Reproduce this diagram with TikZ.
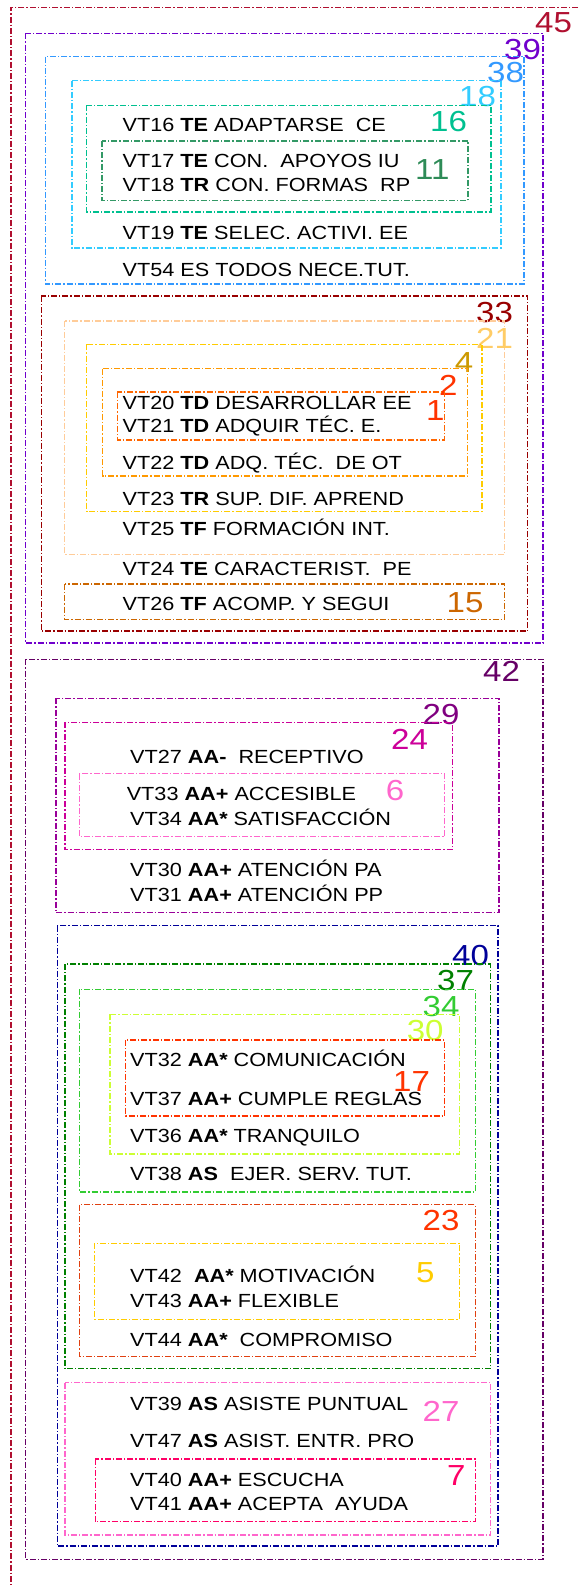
\documentclass[tikz,border=0pt]{standalone}
\usepackage{fontspec}
\setmainfont[FakeStretch=1.14]{Liberation Sans}
\definecolor{c45}{HTML}{B01030}
\definecolor{c39}{HTML}{7000CC}
\definecolor{c38}{HTML}{3399FF}
\definecolor{c18}{HTML}{33CCFF}
\definecolor{c16}{HTML}{00C090}
\definecolor{c11}{HTML}{339966}
\definecolor{l11}{HTML}{2E8B57}
\definecolor{c33}{HTML}{990000}
\definecolor{c21}{HTML}{FFCC99}
\definecolor{l21}{HTML}{FFCC66}
\definecolor{c4}{HTML}{FFCC00}
\definecolor{l4}{HTML}{CC9900}
\definecolor{c2}{HTML}{FF9900}
\definecolor{l2}{HTML}{FF3300}
\definecolor{c1}{HTML}{FF6600}
\definecolor{c15}{HTML}{CC6600}
\definecolor{c42}{HTML}{660066}
\definecolor{c29}{HTML}{990099}
\definecolor{l29}{HTML}{800080}
\definecolor{c24}{HTML}{CC0099}
\definecolor{c6}{HTML}{FF66CC}
\definecolor{c40}{HTML}{000099}
\definecolor{c37}{HTML}{008000}
\definecolor{c34}{HTML}{33CC33}
\definecolor{c30}{HTML}{CCFF33}
\definecolor{c17}{HTML}{FF3300}
\definecolor{c23}{HTML}{E04010}
\definecolor{c5}{HTML}{FFCC00}
\definecolor{c27}{HTML}{FF66CC}
\definecolor{c7}{HTML}{FF0066}
\tikzset{
  box/.style={dash pattern=on 6pt off 2pt on 1.3pt off 2pt, line width=1.2pt},
  txt/.style={anchor=base west, inner sep=0pt, font=\fontsize{19}{19}\selectfont, text=black},
  num/.style={anchor=base west, inner sep=0pt, font=\fontsize{29}{29}\selectfont},
}
\begin{document}
\begin{tikzpicture}[x=1pt,y=-1pt]
\useasboundingbox (0,0) rectangle (578,1586);
% outer 45 (clipped right and bottom)
\draw[box,c45] (578,7.3) -- (11,7.3) -- (11,1586);
\node[num,text=c45] (n45) at (535,33) {45};
% 39
\draw[box,c39] (25.8,33.3) rectangle (543,643);
\node[num,text=c39] (n39) at (504,60) {39};
\draw[box,c38] (45.4,56.7) rectangle (524,284);
\node[num,text=c38] (n38) at (487,83) {38};
\draw[box,c18] (72,80.7) rectangle (501,248);
\node[num,text=c18] (n18) at (459,107) {18};
\draw[box,c16] (86.7,105.3) rectangle (491,212);
\node[num,text=c16] (n16) at (430,132) {16};
\draw[box,c11] (102,141) rectangle (468,200.7);
\node[num,text=l11] (n11) at (415,180) {11};
\node[txt] (t16) at (122.5,132) {VT16 \textbf{TE} ADAPTARSE\ \ CE};
\node[txt] (t17) at (122.5,168) {VT17 \textbf{TE} CON.\ \ APOYOS IU};
\node[txt] (t18) at (122.5,192) {VT18 \textbf{TR} CON. FORMAS\ \ RP};
\node[txt] (t19) at (122.5,240) {VT19 \textbf{TE} SELEC. ACTIVI. EE};
\node[txt] (t54) at (122.5,277) {VT54 ES TODOS NECE.TUT.};
% 33
\draw[box,c33] (41.3,296) rectangle (527.7,631);
\node[num,text=c33] (n33) at (476,323) {33};
\draw[box,c21] (64.6,321) rectangle (504.8,554.3);
\node[num,text=l21] (n21) at (476,348) {21};
\draw[box,c4] (86.7,344.3) rectangle (482,511.7);
\node[num,text=l4] (n4) at (454.6,372) {4};
\draw[box,c2] (102.6,368.7) rectangle (467.5,476);
\node[num,text=l2] (n2) at (439,395) {2};
\draw[box,c1] (117.3,392) rectangle (444.6,440);
\node[num,text=l2] (n1) at (426,420) {1};
\node[txt] (t20) at (122.5,409.3) {VT20 \textbf{TD} DESARROLLAR EE};
\node[txt] (t21) at (122.5,432.7) {VT21 \textbf{TD} ADQUIR TÉC. E.};
\node[txt] (t22) at (122.5,469) {VT22 \textbf{TD} ADQ. TÉC.\ \ DE OT};
\node[txt] (t23) at (122.5,505) {VT23 \textbf{TR} SUP. DIF. APREND};
\node[txt] (t25) at (122.5,535) {VT25 \textbf{TF} FORMACIÓN INT.};
\node[txt] (t24) at (122.5,575) {VT24 \textbf{TE} CARACTERIST.\ \ PE};
\draw[box,c15] (64.6,584) rectangle (504.8,619.3);
\node[num,text=c15] (n15) at (446.5,612) {15};
\node[txt] (t26) at (122.5,610) {VT26 \textbf{TF} ACOMP. Y SEGUI};
% 42
\draw[box,c42] (25.8,659.3) rectangle (543,1559.3);
\node[num,text=c42] (n42) at (483,681.7) {42};
\draw[box,c29] (56,698.3) rectangle (499,912.7);
\node[num,text=l29] (n29) at (422.5,724) {29};
\draw[box,c24] (65,722.3) rectangle (452.4,849.3);
\node[num,text=c24] (n24) at (391,749) {24};
\draw[box,c6] (79.3,773.7) rectangle (444.6,836.7);
\node[num,text=c6] (n6) at (385.6,800) {6};
\node[txt] (t27) at (130,763.3) {VT27 \textbf{AA-}\ \ RECEPTIVO};
\node[txt] (t33) at (126.6,800.7) {VT33 \textbf{AA+} ACCESIBLE};
\node[txt] (t34) at (130,825.7) {VT34 \textbf{AA*} SATISFACCIÓN};
\node[txt] (t30) at (130,876.7) {VT30 \textbf{AA+} ATENCIÓN PA};
\node[txt] (t31) at (130,901.7) {VT31 \textbf{AA+} ATENCIÓN PP};
% 40
\draw[box,c40] (57.2,925.7) rectangle (498,1546);
\node[num,text=c40] (n40) at (452,965) {40};
\draw[box,c37] (65,964) rectangle (490.8,1368.7);
\node[num,text=c37] (n37) at (437,990) {37};
\draw[box,c34] (79.7,989.3) rectangle (475.3,1192);
\node[num,text=c34] (n34) at (422.5,1016) {34};
\draw[box,c30] (110,1014.3) rectangle (459.4,1154);
\node[num,text=c30] (n30) at (406.6,1040.7) {30};
\draw[box,c17] (125.5,1040) rectangle (444.6,1116);
\node[num,text=c17] (n17) at (393,1091.7) {17};
\node[txt] (t32) at (130,1066.7) {VT32 \textbf{AA*} COMUNICACIÓN};
\node[txt] (t37) at (130,1105) {VT37 \textbf{AA+} CUMPLE REGLAS};
\node[txt] (t36) at (130,1142.7) {VT36 \textbf{AA*} TRANQUILO};
\node[txt] (t38) at (130,1180.7) {VT38 \textbf{AS}\ \ EJER. SERV. TUT.};
\draw[box,c23] (79.7,1204.7) rectangle (475.3,1356.7);
\node[num,text=c17] (n23) at (422.5,1230) {23};
\draw[box,c5] (94.8,1243.3) rectangle (459.4,1319.3);
\node[num,text=c5] (n5) at (416,1282.7) {5};
\node[txt] (t42) at (130,1282.7) {VT42\ \ \textbf{AA*} MOTIVACIÓN};
\node[txt] (t43) at (130,1307.7) {VT43 \textbf{AA+} FLEXIBLE};
\node[txt] (t44) at (130,1346) {VT44 \textbf{AA*}\ \ COMPROMISO};
\draw[box,c27] (65,1382.7) rectangle (490.8,1535);
\node[num,text=c27] (n27) at (422.5,1421.7) {27};
\node[txt] (t39) at (130,1410) {VT39 \textbf{AS} ASISTE PUNTUAL};
\node[txt] (t47) at (130,1447.7) {VT47 \textbf{AS} ASIST. ENTR. PRO};
\draw[box,c7] (95.2,1459) rectangle (475.3,1521.7);
\node[num,text=c7] (n7) at (447,1485) {7};
\node[txt] (t40) at (130,1486) {VT40 \textbf{AA+} ESCUCHA};
\node[txt] (t41) at (130,1510.7) {VT41 \textbf{AA+} ACEPTA\ \ AYUDA};
\end{tikzpicture}
\end{document}
